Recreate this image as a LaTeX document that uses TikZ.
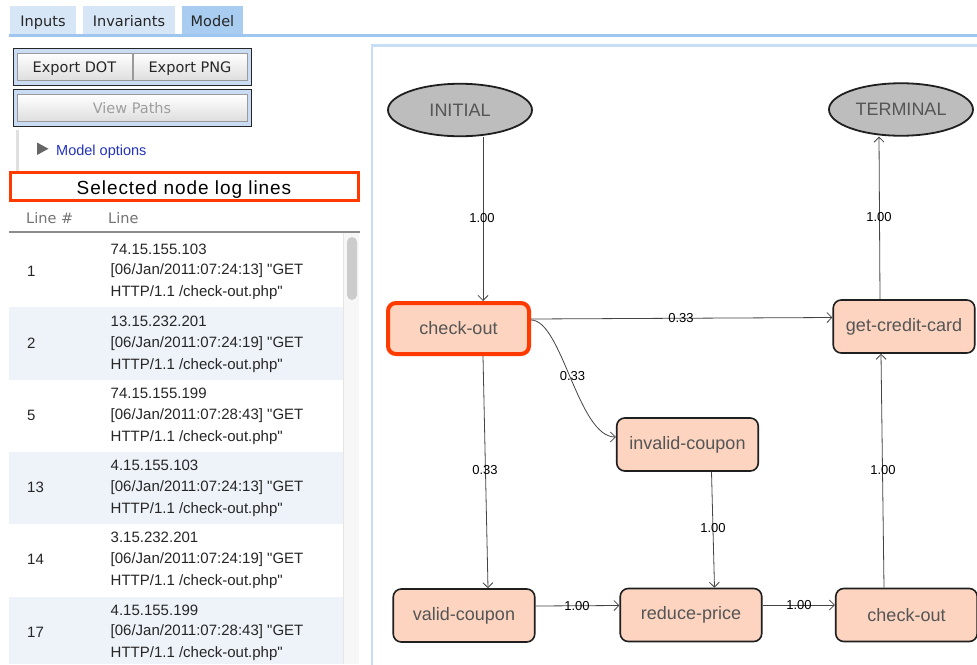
\documentclass[tikz,border=0pt]{standalone}
\usepackage{fontspec}
\setmainfont{Liberation Sans}[Ligatures=TeXOff]
\newfontfamily\dejavu{DejaVu Sans}
\usetikzlibrary{arrows.meta,shapes.geometric,calc}
\definecolor{tablight}{HTML}{D6E6F6}
\definecolor{tabdark}{HTML}{A9CDF0}
\definecolor{tabline}{HTML}{9EC6EE}
\definecolor{framefill}{HTML}{C9DCF3}
\definecolor{btnborder}{HTML}{9A9A9A}
\definecolor{selred}{HTML}{FF3A00}
\definecolor{rowshade}{HTML}{EEF3F9}
\definecolor{panelblue}{HTML}{C8DDF6}
\definecolor{nodefill}{HTML}{FCD4C0}
\definecolor{nodetext}{HTML}{555555}
\definecolor{termfill}{HTML}{BDBDBD}
\definecolor{edgecol}{HTML}{444444}
\definecolor{linkblue}{HTML}{2233BB}
\begin{document}
\begin{tikzpicture}[x=1pt,y=-1pt,
  tabtext/.style={font=\dejavu\fontsize{14.5}{16}\selectfont, text=black!85},
  btn/.style={draw=btnborder, line width=0.8, top color=white, bottom color=black!13},
  btnframe/.style={draw=black!85, line width=1, fill=framefill},
  rownum/.style={anchor=west, font=\fontsize{15}{17}\selectfont, text=black!85},
  rowtext/.style={anchor=west, font=\fontsize{15}{17}\selectfont, text=black!85, inner sep=0},
  box/.style={rectangle, rounded corners=8, draw=black!88, line width=1.6, fill=nodefill,
    minimum width=141.5, minimum height=53, inner sep=0, text=nodetext,
    font=\fontsize{18}{20}\selectfont},
  selbox/.style={box, draw=selred, line width=4, minimum width=141, minimum height=51},
  term/.style={ellipse, draw=black!88, line width=1.8, fill=termfill, minimum width=144,
    minimum height=52.5, inner sep=0, text=nodetext, font=\fontsize{18}{20}\selectfont},
  edge/.style={draw=edgecol, line width=0.8, -{Straight Barb[length=5pt,width=10pt]}},
  lbl/.style={font=\fontsize{13}{14}\selectfont, text=black, inner sep=0}
]
\useasboundingbox (0,0) rectangle (977,664);
\fill[white] (0,0) rectangle (977,664);

% tabs
\fill[tablight] (10,6) rectangle (76,34);
\fill[tablight] (83,6) rectangle (175,34);
\fill[tabdark] (182,6) rectangle (243,34);
\fill[tabline] (9,33.5) rectangle (977,37);
\node[tabtext, anchor=base] (tabInputs) at (43,26) {Inputs};
\node[tabtext, anchor=base] (tabInv) at (129,26) {Invariants};
\node[tabtext, anchor=base] (tabModel) at (212.5,26) {Model};

% buttons
\draw[btnframe] (13.5,48.5) rectangle (251,85);
\draw[btn] (17.5,53) rectangle (132,80.5);
\draw[btn] (133,53) rectangle (247,80.5);
\node[tabtext, anchor=base] (bdot) at (74.5,72.5) {Export DOT};
\node[tabtext, anchor=base] (bpng) at (190,72.5) {Export PNG};
\draw[btnframe] (13.5,89.5) rectangle (251,126);
\draw[btn] (17.5,94) rectangle (247,121.5);
\node[tabtext, anchor=base, text=black!38] (bpaths) at (132,113.5) {View Paths};

% model options
\fill[black!12] (16,130) rectangle (18.5,171);
\fill[black!60] (37,142.5) -- (37,155) -- (48.5,148.75) -- cycle;
\node[anchor=base west, font=\fontsize{14.5}{16}\selectfont, text=linkblue, inner sep=0] (mopt) at (56,155) {Model options};

% selected node log lines
\draw[selred, line width=3] (10.5,172.5) rectangle (358.5,200.5);
\node[anchor=base, font=\fontsize{19}{21}\selectfont\addfontfeature{LetterSpace=5}] (seltitle) at (184,194) {Selected node log lines};

% table header
\node[anchor=base west, font=\dejavu\fontsize{14.5}{16}\selectfont, text=black!55, inner sep=0] (hnum) at (26,223) {Line \#};
\node[anchor=base west, font=\dejavu\fontsize{14.5}{16}\selectfont, text=black!55, inner sep=0] (hline) at (108,223) {Line};
\fill[black!45] (9,231) rectangle (360,233);

% rows
\fill[rowshade] (9,307) rectangle (343,379.5);
\fill[rowshade] (9,452) rectangle (343,524);
\fill[rowshade] (9,596.5) rectangle (343,664);
\fill[black!3] (343,233) rectangle (359,664);
\draw[black!10, line width=0.6] (343,233) -- (343,664);
\fill[black!20, rounded corners=5] (347,237) rectangle (357,300);

\foreach \n/\ip/\ts [count=\i from 0] in {1/74.15.155.103/07:24:13, 2/13.15.232.201/07:24:19, 5/74.15.155.199/07:28:43, 13/4.15.155.103/07:24:13, 14/3.15.232.201/07:24:19, 17/4.15.155.199/07:28:43}{
  \pgfmathsetmacro{\yc}{271+72.2*\i}
  \node[rownum, inner sep=0] (num\i) at (27,\yc) {\n};
  \node[rowtext] (ip\i) at (110.5,\yc-22) {\ip};
  \node[rowtext] (ts\i) at (110.5,\yc) {[06/Jan/2011:\ts] "GET};
  \node[rowtext] (ht\i) at (110.5,\yc+22) {HTTP/1.1 /check-out.php"};
}

% right panel
\draw[panelblue, line width=2.5] (372,680) -- (372,45.5) -- (990,45.5);

% graph nodes
\node[term] (ini) at (460,110) {INITIAL};
\node[term] (ter) at (901,109.5) {TERMINAL};
\node[selbox] (co1) at (458.5,328.5) {check-out};
\node[box] (gcc) at (904,326.5) {get-credit-card};
\node[box] (inv) at (687.5,444.5) {invalid-coupon};
\node[box] (vc) at (464,615.5) {valid-coupon};
\node[box] (rp) at (691,615) {reduce-price};
\node[box] (co2) at (906.5,615) {check-out};

% edges
\draw[edge] (ini.south -| 483,0) -- (co1.north -| 483,0);
\node[lbl] (l1) at (482,218) {1.00};
\draw[edge] (co1.east |- 0,319) -- (gcc.west |- 0,317.5);
\node[lbl] (l2) at (681,318) {0.33};
\draw[edge] (gcc.north -| 880,0) -- (ter.south -| 879,0);
\node[lbl] (l3) at (879,217) {1.00};
\draw[edge] (co1.east |- 0,320) .. controls (562,320) and (578,437) .. (inv.west |- 0,437);
\node[lbl] (l4) at (572.5,376) {0.33};
\draw[edge] (co1.south -| 483,0) -- (vc.north -| 488,0);
\node[lbl] (l5) at (485,470) {0.33};
\draw[edge] (inv.south -| 711.5,0) -- (rp.north -| 714.5,0);
\node[lbl] (l6) at (713,528) {1.00};
\draw[edge] (vc.east |- 0,606) -- (rp.west |- 0,605.5);
\node[lbl] (l7) at (577,606) {1.00};
\draw[edge] (rp.east |- 0,605) -- (co2.west |- 0,605);
\node[lbl] (l8) at (799,605) {1.00};
\draw[edge] (co2.north -| 884,0) -- (gcc.south -| 881,0);
\node[lbl] (l9) at (883,470) {1.00};
\end{tikzpicture}
\end{document}
